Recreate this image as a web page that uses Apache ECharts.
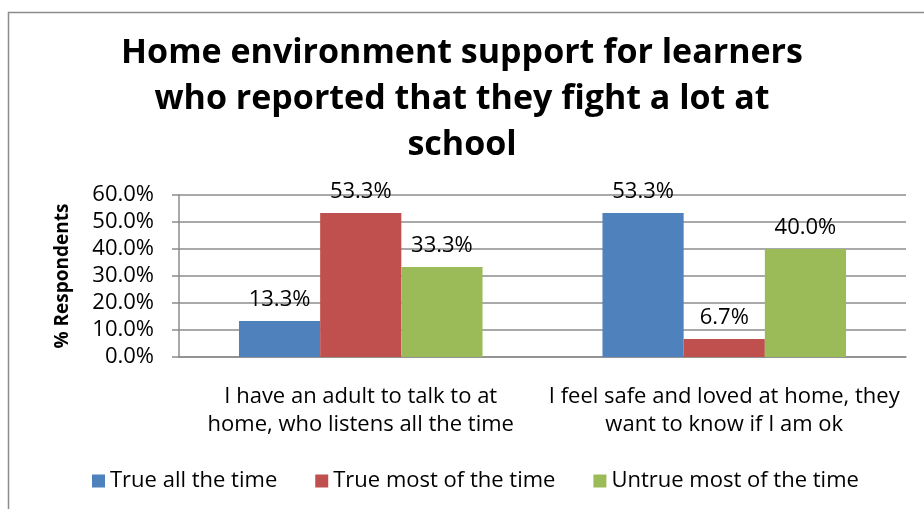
<!DOCTYPE html>
<html>
<head>
<meta charset="utf-8">
<style>
  html, body { margin: 0; padding: 0; background: #fff; }
  #chart { width: 924px; height: 509px; }
</style>
<script src="https://cdn.jsdelivr.net/npm/echarts@6/dist/echarts.min.js"></script>
</head>
<body>
<div id="chart"></div>
<script>
// Statement categories on the x axis
const categories = [
  'I have an adult to talk to at\nhome, who listens all the time',
  'I feel safe and loved at home, they\nwant to know if I am ok'
];
// Share of respondents per answer (fractions)
const trueAllTheTime = [0.133, 0.533];
const trueMostOfTheTime = [0.533, 0.067];
const untrueMostOfTheTime = [0.333, 0.400];
const seriesNames = ['True all the time', 'True most of the time', 'Untrue most of the time'];
const seriesColors = ['#4F81BD', '#C0504D', '#9BBB59'];

const FONT = '"Open Sans", sans-serif';
const pct = v => (v * 100).toFixed(1) + '%';

const chart = echarts.init(document.getElementById('chart'));

const barLabel = {
  show: true,
  position: 'top',
  distance: 10,
  color: '#000',
  fontFamily: FONT,
  fontSize: 22,
  formatter: p => pct(p.value)
};

chart.setOption({
  animation: false,
  backgroundColor: '#fff',
  title: {
    text: 'Home environment support for learners\nwho reported that they fight a lot at\nschool',
    left: 'center',
    top: 25,
    textStyle: {
      fontFamily: FONT,
      fontWeight: 'bold',
      fontSize: 34,
      lineHeight: 46,
      color: '#000'
    }
  },
  graphic: [{
    type: 'rect',
    shape: { x: 8.5, y: 12.5, width: 1000, height: 1000 },
    style: { fill: null, stroke: '#8c8c8c', lineWidth: 1.5 },
    silent: true
  }],
  legend: {
    bottom: 12,
    left: 87,
    itemWidth: 13,
    itemHeight: 13,
    itemGap: 38,
    icon: 'rect',
    textStyle: { fontFamily: FONT, fontSize: 22, color: '#000' },
    data: seriesNames
  },
  grid: { left: 179, right: 18, top: 195, bottom: 152 },
  xAxis: {
    type: 'category',
    data: categories,
    axisLine: { lineStyle: { color: '#8c8c8c', width: 1.5 } },
    axisTick: { length: 7, lineStyle: { color: '#8c8c8c', width: 1.5 } },
    axisLabel: {
      color: '#000',
      fontFamily: FONT,
      fontSize: 22,
      lineHeight: 28,
      margin: 26,
      interval: 0
    }
  },
  yAxis: {
    type: 'value',
    min: 0,
    max: 0.6,
    interval: 0.1,
    name: '% Respondents',
    nameLocation: 'middle',
    nameGap: 107,
    nameTextStyle: { fontFamily: FONT, fontWeight: 'bold', fontSize: 19, color: '#000' },
    axisLine: { show: true, lineStyle: { color: '#8c8c8c', width: 1.5 } },
    axisTick: { show: true, length: 7, lineStyle: { color: '#8c8c8c', width: 1.5 } },
    splitLine: { lineStyle: { color: '#8c8c8c', width: 1.5 } },
    axisLabel: {
      color: '#000',
      fontFamily: FONT,
      fontSize: 22,
      margin: 25,
      formatter: v => pct(v)
    }
  },
  series: [
    { name: seriesNames[0], type: 'bar', data: trueAllTheTime, itemStyle: { color: seriesColors[0] }, barGap: '0%', barCategoryGap: '33%', label: barLabel },
    { name: seriesNames[1], type: 'bar', data: trueMostOfTheTime, itemStyle: { color: seriesColors[1] }, label: barLabel },
    { name: seriesNames[2], type: 'bar', data: untrueMostOfTheTime, itemStyle: { color: seriesColors[2] }, label: barLabel }
  ]
});
</script>
</body>
</html>
